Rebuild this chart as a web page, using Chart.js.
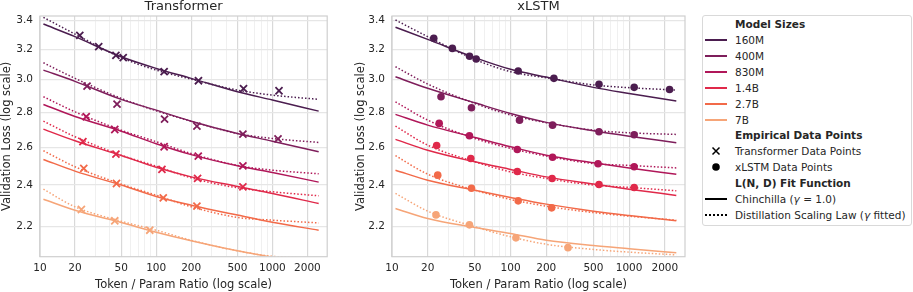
<!DOCTYPE html>
<html>
<head>
<meta charset="utf-8">
<script src="https://cdn.jsdelivr.net/npm/chart.js@4.4.0/dist/chart.umd.min.js"></script>
<style>
body{margin:0;background:#fff;font-family:'DejaVu Sans',sans-serif;color:#262626}
#wrap{position:relative;width:913px;height:292px;overflow:hidden}
.box{position:absolute;top:0;height:292px}
#legend{position:absolute;left:702px;top:15px;width:210px;height:211px;box-sizing:border-box;border:1px solid #d9d9d9;border-radius:3px;font-size:10.5px;background:#fff}
.row{position:absolute;left:0;width:100%;height:14px;line-height:14px;white-space:nowrap}
.row .t{position:absolute;left:32px;top:0}
.row b{font-weight:bold}
.row .ln{position:absolute;left:2px;top:6px;width:22px;height:0}
.row svg{position:absolute;left:8px;top:2px}
</style>
</head>
<body>
<div id="wrap">
  <div class="box" style="left:0;width:334px"><canvas id="tf"></canvas></div>
  <div class="box" style="left:354px;width:335px"><canvas id="xl"></canvas></div>
  <div id="legend"></div>
</div>
<script>
var ratios = [10.7, 20, 50, 100, 200, 500, 1000, 2500]
var sizes = ['160M', '400M', '830M', '1.4B', '2.7B', '7B']
var colors = ['#4b1d4f', '#7e1e5b', '#b01759', '#e0294a', '#f26a49', '#f6a578']
var xTicks = [10, 20, 50, 100, 200, 500, 1000, 2000]
var yTicks = [2.2, 2.4, 2.6, 2.8, 3.0, 3.2, 3.4]

// Transformer
var tfChinchilla = [
  [3.376, 3.287, 3.150, 3.073, 3.009, 2.925, 2.874, 2.807],
  [3.062, 2.990, 2.878, 2.813, 2.748, 2.677, 2.634, 2.575],
  [2.847, 2.775, 2.690, 2.620, 2.560, 2.500, 2.465, 2.415],
  [2.702, 2.636, 2.555, 2.492, 2.442, 2.393, 2.358, 2.308],
  [2.534, 2.472, 2.400, 2.343, 2.300, 2.252, 2.218, 2.181],
  [2.329, 2.275, 2.217, 2.172, 2.133, 2.088, 2.060, 2.022]
]
var tfDistill = [
  [3.424, 3.305, 3.144, 3.062, 3.004, 2.935, 2.904, 2.878],
  [3.110, 3.009, 2.884, 2.809, 2.748, 2.677, 2.649, 2.627],
  [2.894, 2.803, 2.696, 2.631, 2.566, 2.502, 2.477, 2.458],
  [2.748, 2.659, 2.557, 2.498, 2.437, 2.386, 2.366, 2.346],
  [2.581, 2.495, 2.405, 2.349, 2.292, 2.241, 2.228, 2.215],
  [2.379, 2.292, 2.223, 2.181, 2.135, 2.088, 2.064, 2.055]
]
var tfPointX = [
  [22, 32, 45, 52, 117, 231, 564, 1139],
  [25.4, 46, 118, 224, 557, 1117],
  [25, 44, 117, 230, 557],
  [23.4, 45, 112, 227, 557],
  [23.8, 45.5, 115, 224],
  [22.7, 44, 88]
]
var tfPointY = [
  [3.296, 3.218, 3.159, 3.144, 3.052, 2.994, 2.944, 2.931],
  [2.960, 2.849, 2.760, 2.719, 2.674, 2.647],
  [2.774, 2.700, 2.603, 2.552, 2.500],
  [2.631, 2.563, 2.481, 2.434, 2.391],
  [2.486, 2.408, 2.336, 2.295],
  [2.279, 2.225, 2.181]
]

// xLSTM
var xlChinchilla = [
  [3.353, 3.268, 3.144, 3.067, 3.017, 2.952, 2.914, 2.868],
  [3.019, 2.946, 2.857, 2.793, 2.741, 2.693, 2.662, 2.625],
  [2.788, 2.725, 2.655, 2.603, 2.557, 2.516, 2.488, 2.456],
  [2.644, 2.584, 2.521, 2.481, 2.442, 2.405, 2.379, 2.348],
  [2.477, 2.425, 2.374, 2.338, 2.305, 2.271, 2.250, 2.225],
  [2.284, 2.236, 2.194, 2.166, 2.135, 2.111, 2.097, 2.079]
]
var xlDistill = [
  [3.405, 3.287, 3.132, 3.052, 3.013, 2.967, 2.950, 2.935],
  [3.084, 2.973, 2.853, 2.784, 2.739, 2.696, 2.681, 2.672],
  [2.863, 2.754, 2.649, 2.594, 2.552, 2.512, 2.502, 2.489],
  [2.719, 2.612, 2.521, 2.468, 2.434, 2.400, 2.388, 2.371],
  [2.554, 2.456, 2.374, 2.328, 2.295, 2.264, 2.247, 2.228],
  [2.358, 2.271, 2.197, 2.151, 2.117, 2.094, 2.082, 2.070]
]
var xlPointX = [
  [22.5, 32.3, 45.1, 51.3, 116, 232, 557, 1103, 2193],
  [25.9, 46.8, 119, 226, 557, 1103],
  [25, 45, 114, 226, 547, 1103],
  [23.8, 46.2, 114, 224, 557, 1103],
  [24.3, 46.8, 116, 222],
  [23.5, 45, 111, 305]
]
var xlPointY = [
  [3.275, 3.206, 3.153, 3.135, 3.056, 3.009, 2.971, 2.952, 2.939],
  [2.894, 2.827, 2.754, 2.725, 2.687, 2.670],
  [2.735, 2.664, 2.588, 2.546, 2.511, 2.495],
  [2.610, 2.539, 2.470, 2.434, 2.403, 2.388],
  [2.451, 2.384, 2.321, 2.287],
  [2.253, 2.206, 2.146, 2.102]
]

Chart.defaults.font.family = "'DejaVu Sans', sans-serif"
Chart.defaults.color = '#262626'

var gridAt = []
for (var d = 10; d <= 1000; d *= 10) {
  for (var m = 1; m < 10; m++) gridAt.push(d * m)
}
gridAt = gridAt.filter(v => v <= 2000)

// light box around the plot area
var frame = {
  id: 'frame',
  afterDatasetsDraw(chart) {
    var a = chart.chartArea, c = chart.ctx
    c.save()
    c.strokeStyle = '#cfcfcf'
    c.lineWidth = 1.2
    c.strokeRect(a.left, a.top, a.right - a.left, a.bottom - a.top)
    c.restore()
  }
}

function buildDatasets(solid, dotted, px, py, marker) {
  var ds = []
  sizes.forEach((s, i) => {
    ds.push({
      label: s + ' Chinchilla',
      data: ratios.map((r, k) => ({x: r, y: solid[i][k]})),
      showLine: true, borderColor: colors[i], borderWidth: 1.5,
      pointRadius: 0, cubicInterpolationMode: 'monotone', order: 2
    })
    ds.push({
      label: s + ' Distillation',
      data: ratios.map((r, k) => ({x: r, y: dotted[i][k]})),
      showLine: true, borderColor: colors[i], borderWidth: 1.5, borderDash: [1.5, 2],
      pointRadius: 0, cubicInterpolationMode: 'monotone', order: 2
    })
    ds.push({
      label: s + ' points',
      data: px[i].map((x, k) => ({x: x, y: py[i][k]})),
      showLine: false, pointStyle: marker,
      pointRadius: marker == 'crossRot' ? 5 : 3.8,
      borderColor: colors[i], backgroundColor: colors[i],
      borderWidth: marker == 'crossRot' ? 1.8 : 0, order: 1
    })
  })
  return ds
}

function makeChart(id, title, datasets, yWidth) {
  return new Chart(document.getElementById(id), {
    type: 'scatter',
    data: {datasets: datasets},
    options: {
      responsive: true, maintainAspectRatio: false, animation: false, devicePixelRatio: 1,
      layout: {padding: {right: 2.3}},
      plugins: {
        legend: {display: false},
        tooltip: {enabled: false},
        title: {display: true, text: title, fullSize: false,
          font: {size: 13, weight: 'normal', lineHeight: 1}, padding: {top: 0, bottom: 3}}
      },
      scales: {
        x: {
          type: 'logarithmic', min: 10, max: 2960,
          afterBuildTicks: s => { s.ticks = gridAt.map(v => ({value: v})) },
          afterFit: s => { s.height = 35.3 },
          ticks: {
            autoSkip: false, maxRotation: 0, padding: 5, font: {size: 10.5},
            callback: v => xTicks.includes(v) ? String(v) : ''
          },
          grid: {
            drawTicks: false,
            color: c => (c.tick && xTicks.includes(c.tick.value)) ? '#d9d9d9' : '#ececec',
            lineWidth: c => (c.tick && xTicks.includes(c.tick.value)) ? 1.2 : 0.8
          },
          border: {display: false},
          title: {display: true, text: 'Token / Param Ratio (log scale)', font: {size: 11.5}, padding: {top: 0, bottom: 0}}
        },
        y: {
          type: 'logarithmic', min: 2.062, max: 3.434,
          afterBuildTicks: s => { s.ticks = yTicks.map(v => ({value: v})) },
          afterFit: s => { s.width = yWidth },
          ticks: {autoSkip: false, padding: 7, font: {size: 10.5}, callback: v => v.toFixed(1)},
          grid: {drawTicks: false, color: '#e6e6e6', lineWidth: 1.2},
          border: {display: false},
          title: {display: true, text: 'Validation Loss (log scale)', font: {size: 11.5}, padding: 0}
        }
      }
    },
    plugins: [frame]
  })
}

makeChart('tf', 'Transformer', buildDatasets(tfChinchilla, tfDistill, tfPointX, tfPointY, 'crossRot'), 40)
makeChart('xl', 'xLSTM', buildDatasets(xlChinchilla, xlDistill, xlPointX, xlPointY, 'circle'), 38)

// legend
var leg = document.getElementById('legend')
var rows = []
rows.push('<span class="t"><b>Model Sizes</b></span>')
sizes.forEach((s, i) => {
  rows.push('<span class="ln" style="border-top:2px solid ' + colors[i] + '"></span><span class="t">' + s + '</span>')
})
rows.push('<span class="t"><b>Empirical Data Points</b></span>')
rows.push('<svg width="10" height="10"><path d="M1.5 1.5L8.5 8.5M8.5 1.5L1.5 8.5" stroke="#000" stroke-width="1.5"/></svg><span class="t">Transformer Data Points</span>')
rows.push('<svg width="10" height="10"><circle cx="5" cy="5" r="3.8" fill="#000"/></svg><span class="t">xLSTM Data Points</span>')
rows.push('<span class="t"><b>L(N, D) Fit Function</b></span>')
rows.push('<span class="ln" style="border-top:2px solid #000"></span><span class="t">Chinchilla (<i>γ</i> = 1.0)</span>')
rows.push('<span class="ln" style="border-top:2px dotted #000"></span><span class="t">Distillation Scaling Law (<i>γ</i> fitted)</span>')
rows.forEach((h, i) => {
  var r = document.createElement('div')
  r.className = 'row'
  r.style.top = (0.8 + 15.95 * i) + 'px'
  r.innerHTML = h
  leg.appendChild(r)
})
</script>
</body>
</html>
